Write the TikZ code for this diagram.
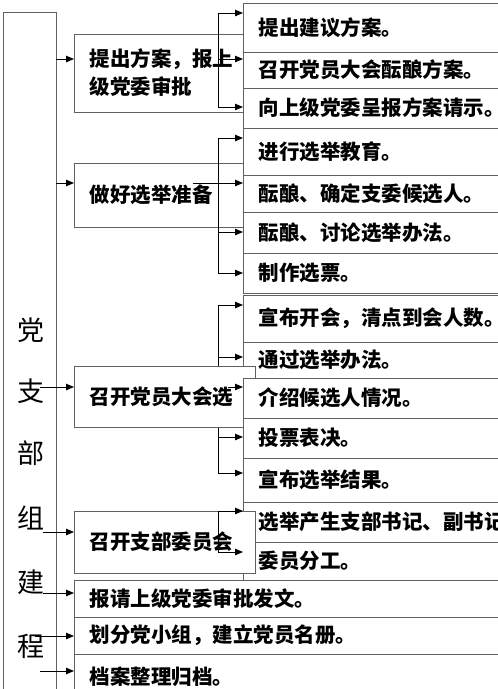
\documentclass[tikz,border=0pt]{standalone}
\usepackage{fontspec}
\setmainfont{Noto Sans CJK SC}
\usetikzlibrary{arrows.meta}
\tikzset{
  boxe/.style={draw=black!62, line width=1.1pt, fill=white, rectangle, anchor=north west, inner sep=0pt},
  lab/.style={anchor=west, inner sep=0pt, align=left, font=\fontsize{20.5}{28}\selectfont\bfseries},
  side/.style={inner sep=0pt, font=\fontsize{27}{28}\selectfont},
  conn/.style={draw=black, line width=1pt, -{Triangle[length=8pt,width=6.5pt]}},
  brk/.style={draw=black, line width=1pt},
}
\newcommand\tbox[6]{%
  \node[boxe, minimum width={(#4-#2)*1pt}, minimum height={(#5-#3)*1pt}] (#1) at (#2,#3) {};
  \node[lab] (#1-t) at ({#2+15.5},{(#3+#5)/2}) {#6};}
\begin{document}
\begin{tikzpicture}[x=1pt,y=-1pt]
\useasboundingbox (0,0) rectangle (498,689);
\clip (0,0) rectangle (498,689);
% left box
\node[boxe, minimum width=53pt, minimum height=700pt] (L) at (3,12) {};
\foreach \c/\yy [count=\i] in {党/330,支/391,部/453,组/518,建/582,程/646}
  \node[side] (L\i) at (31,\yy) {\c};
% second-level boxes 1,2
\tbox{m1}{74}{34}{243}{112}{提出方案，报上\\级党委审批}
\tbox{m2}{74}{163}{243}{227}{做好选举准备}
% third-level boxes
\tbox{a1}{243}{3}{520}{52}{提出建议方案。}
\tbox{a2}{243}{52}{520}{88}{召开党员大会酝酿方案。}
\tbox{a3}{243}{88}{520}{128}{向上级党委呈报方案请示。}
\tbox{b1}{243}{128}{520}{175}{进行选举教育。}
\tbox{b2}{243}{175}{520}{212}{酝酿、确定支委候选人。}
\tbox{b3}{243}{212}{520}{253}{酝酿、讨论选举办法。}
\tbox{b4}{243}{253}{520}{293}{制作选票。}
\tbox{c1}{243}{295}{520}{342}{宣布开会，清点到会人数。}
\tbox{c2}{243}{342}{520}{378}{通过选举办法。}
% group 3 bracket (partly hidden)
\coordinate (g3a) at (218,305);
\coordinate (g3b) at (218,357);
\coordinate (g3c) at (228,387);
\coordinate (g3d) at (218,437);
\coordinate (g3e) at (218,473);
\draw[brk] (g3a) -- (g3e);
\draw[conn] (g3a) -- (g3a -| c1.west);
\draw[conn] (g3b) -- (g3b -| c2.west);
\tbox{m3}{74}{366}{255}{427}{召开党员大会选}
\tbox{c3}{243}{378}{520}{418}{介绍候选人情况。}
\tbox{c4}{243}{418}{520}{458}{投票表决。}
\tbox{c5}{243}{458}{520}{502}{宣布选举结果。}
\tbox{d1}{243}{502}{520}{542}{选举产生支部书记、副书记}
\tbox{d2}{243}{542}{520}{580}{委员分工。}
% group 1
\coordinate (g1a) at (218,13);
\coordinate (g1b) at (218,59);
\coordinate (g1c) at (218,107);
\draw[brk] (g1a) -- (g1c);
\draw[conn] (g1a) -- (g1a -| a1.west);
\draw[conn] (g1b) -- (g1b -| a2.west);
\draw[conn] (g1c) -- (g1c -| a3.west);
% group 2
\coordinate (g2a) at (218,138);
\coordinate (g2b) at (193,183);
\coordinate (g2c) at (218,232);
\coordinate (g2d) at (218,273);
\draw[brk] (g2a) -- (g2d);
\draw[conn] (g2a) -- (g2a -| b1.west);
\draw[conn] (g2b) -- (g2b -| b2.west);
\draw[conn] (g2c) -- (g2c -| b3.west);
\draw[conn] (g2d) -- (g2d -| b4.west);
% group 3 lower arrows
\draw[conn] (g3c) -- (g3c -| c3.west);
\draw[conn] (g3d) -- (g3d -| c4.west);
\draw[conn] (g3e) -- (g3e -| c5.west);
% second-level box 4 and group 4
\tbox{m4}{74}{511}{255}{573}{召开支部委员会}
\coordinate (g4a) at (218,511);
\coordinate (g4b) at (218,552);
\draw[brk] (g4a) -- (g4b);
\draw[conn] (g4a) -- (g4a -| d1.west);
\draw[conn] (g4b) -- (g4b -| d2.west);
% bottom boxes
\tbox{m5}{74}{580}{520}{617}{报请上级党委审批发文。}
\tbox{m6}{74}{617}{520}{654}{划分党小组，建立党员名册。}
\tbox{m7}{74}{654}{520}{700}{档案整理归档。}
% left arrows
\coordinate (s1) at (56,59);
\coordinate (s2) at (56,183);
\coordinate (s3) at (40,387);
\coordinate (s4) at (43,532);
\coordinate (s5) at (43,593);
\coordinate (s6) at (35,636);
\coordinate (s7) at (40,671);
\draw[conn] (s1) -- (s1 -| m1.west);
\draw[conn] (s2) -- (s2 -| m2.west);
\draw[conn] (s3) -- (s3 -| m3.west);
\draw[conn] (s4) -- (s4 -| m4.west);
\draw[conn] (s5) -- (s5 -| m5.west);
\draw[conn] (s6) -- (s6 -| m6.west);
\draw[conn] (s7) -- (s7 -| m7.west);
\end{tikzpicture}
\end{document}
